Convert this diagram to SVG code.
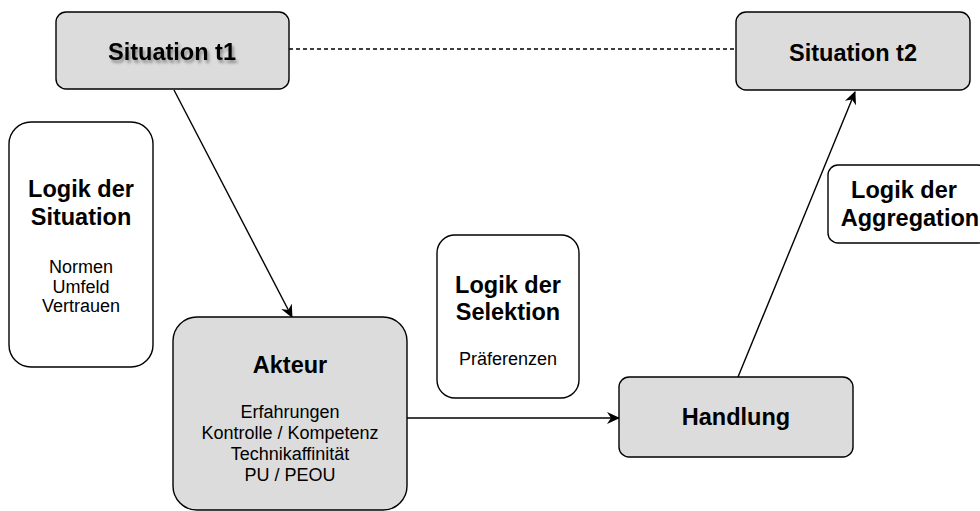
<svg xmlns="http://www.w3.org/2000/svg" width="980" height="511" viewBox="0 0 980 511">
<style>
.g{fill:#dcdcdc;stroke:#000;stroke-width:1.4}
.w{fill:#fff;stroke:#000;stroke-width:1.4}
.h{font-family:"Liberation Sans",Arial,sans-serif;font-weight:bold;font-size:23.5px;fill:#000;text-anchor:middle}
.s{font-family:"Liberation Sans",Arial,sans-serif;font-size:18px;fill:#000;text-anchor:middle}
.c{fill:none;stroke:#000;stroke-width:1.4}
</style>
<defs>
<marker id="ar" markerWidth="14" markerHeight="12" refX="12" refY="6" orient="auto" markerUnits="userSpaceOnUse">
<path d="M0,0 L13,6 L0,12 L4,6 z" fill="#000"/>
</marker>
<filter id="ts" x="-10%" y="-30%" width="130%" height="170%">
<feGaussianBlur in="SourceAlpha" stdDeviation="1.5"/>
<feOffset dx="2" dy="3" result="b"/>
<feComponentTransfer><feFuncA type="linear" slope="0.35"/></feComponentTransfer>
<feMerge><feMergeNode/><feMergeNode in="SourceGraphic"/></feMerge>
</filter>
</defs>
<g id="connectors">
<line class="c" x1="289" y1="49" x2="736" y2="49" stroke-dasharray="4 3"/>
<line class="c" x1="174" y1="90" x2="292" y2="317" marker-end="url(#ar)"/>
<line class="c" x1="407" y1="418" x2="619" y2="418" marker-end="url(#ar)"/>
<line class="c" x1="738" y1="377" x2="855" y2="92" marker-end="url(#ar)"/>
</g>
<g id="situation-t1">
<rect class="g" x="56" y="12" width="233" height="77" rx="10"/>
<text class="h" x="172" y="60" filter="url(#ts)">Situation t1</text>
</g>
<g id="situation-t2">
<rect class="g" x="736" y="12" width="234" height="78" rx="10"/>
<text class="h" x="853" y="61">Situation t2</text>
</g>
<g id="logik-situation">
<rect class="w" x="9" y="122" width="144" height="245" rx="22"/>
<text class="h" x="81" y="197">Logik der</text>
<text class="h" x="81" y="225">Situation</text>
<text class="s" x="81" y="273">Normen</text>
<text class="s" x="81" y="293">Umfeld</text>
<text class="s" x="81" y="312">Vertrauen</text>
</g>
<g id="akteur">
<rect class="g" x="173" y="317" width="234" height="193" rx="24"/>
<text class="h" x="290" y="373">Akteur</text>
<text class="s" x="290" y="418">Erfahrungen</text>
<text class="s" x="290" y="439">Kontrolle / Kompetenz</text>
<text class="s" x="290" y="460">Technikaffinität</text>
<text class="s" x="290" y="481">PU / PEOU</text>
</g>
<g id="logik-selektion">
<rect class="w" x="437" y="235" width="142" height="163" rx="18"/>
<text class="h" x="508" y="293">Logik der</text>
<text class="h" x="508" y="320">Selektion</text>
<text class="s" x="508" y="365">Präferenzen</text>
</g>
<g id="handlung">
<rect class="g" x="619" y="377" width="234" height="80" rx="10"/>
<text class="h" x="736" y="425">Handlung</text>
</g>
<g id="logik-aggregation">
<rect class="w" x="828" y="165" width="160" height="78" rx="10"/>
<text class="h" x="904" y="198">Logik der</text>
<text class="h" x="910" y="226">Aggregation</text>
</g>
</svg>
